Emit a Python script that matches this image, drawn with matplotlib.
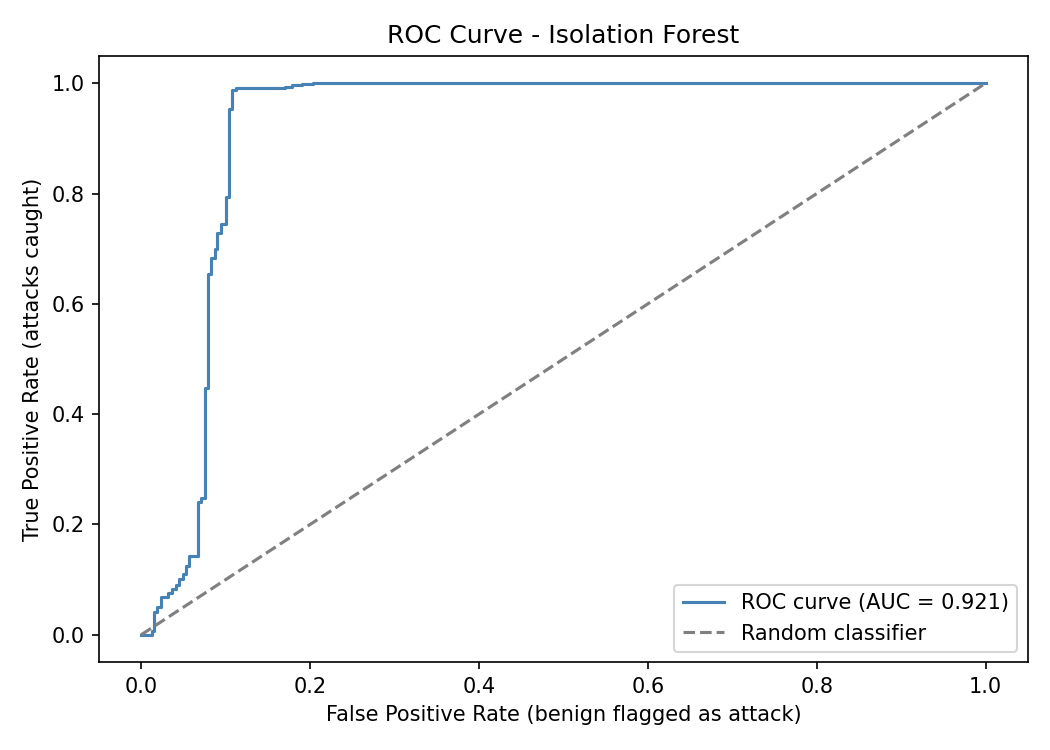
import matplotlib

matplotlib.use("Agg")
import matplotlib.pyplot as plt  # noqa: E402

# ROC corner points (sklearn-style fpr/tpr)
fpr = [0.0, 0.0127, 0.0127, 0.0154, 0.0154, 0.019, 0.019, 0.024, 0.024, 0.032, 0.032,
       0.036, 0.036, 0.041, 0.041, 0.045, 0.045, 0.049, 0.049, 0.053, 0.053, 0.057, 0.057,
       0.067, 0.067, 0.071, 0.071, 0.075, 0.075, 0.079, 0.079, 0.083, 0.083, 0.087, 0.087,
       0.090, 0.090, 0.095, 0.095, 0.100, 0.100, 0.104, 0.104, 0.108, 0.108, 0.112, 0.112,
       0.170, 0.170, 0.179, 0.179, 0.191, 0.191, 0.203, 0.203, 1.0]
tpr = [0.0, 0.0, 0.007, 0.007, 0.042, 0.042, 0.050, 0.050, 0.068, 0.068, 0.075,
       0.075, 0.083, 0.083, 0.090, 0.090, 0.102, 0.102, 0.111, 0.111, 0.125, 0.125, 0.142,
       0.142, 0.241, 0.241, 0.248, 0.248, 0.448, 0.448, 0.655, 0.655, 0.683, 0.683, 0.699,
       0.699, 0.729, 0.729, 0.745, 0.745, 0.794, 0.794, 0.953, 0.953, 0.988, 0.988, 0.991,
       0.991, 0.994, 0.994, 0.997, 0.997, 0.999, 0.999, 1.0, 1.0]
auc_value = 0.921

fig, ax = plt.subplots(figsize=(7, 5), dpi=150)
ax.plot(fpr, tpr, color="steelblue", lw=1.5, label=f"ROC curve (AUC = {auc_value:.3f})")
ax.plot([0, 1], [0, 1], color="gray", ls="--", lw=1.5, label="Random classifier")
ax.set_xlabel("False Positive Rate (benign flagged as attack)")
ax.set_ylabel("True Positive Rate (attacks caught)")
ax.set_title("ROC Curve - Isolation Forest")
ax.legend(loc="lower right")
fig.subplots_adjust(left=0.0943, right=0.9788, top=0.9257, bottom=0.1169)
fig.savefig("out.png")
plt.close(fig)
